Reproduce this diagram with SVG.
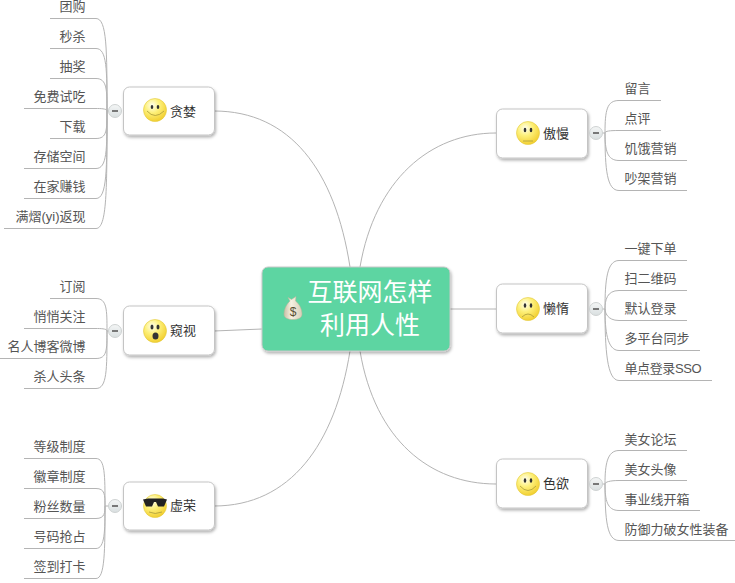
<svg xmlns="http://www.w3.org/2000/svg" width="735" height="583" viewBox="0 0 735 583">
<style>
text{font-family:"Liberation Sans","Noto Sans CJK SC",sans-serif}
.c{fill:none;stroke:#b4b4b4;stroke-width:1}
.leaf{font-size:13px;fill:#555}
.r{text-anchor:end}
.lbl{font-size:13px;fill:#333}
.box{fill:#fff;stroke:#c4c4c4;stroke-width:1;filter:url(#sh)}
.tog{fill:url(#tg);stroke:#cfd3d3}
.minus{fill:#777}
.face{fill:url(#smile);stroke:#e3c93c;stroke-width:.6}
.eye{fill:#333}
.m{fill:none;stroke:#a89a3a;stroke-width:.8}
.title{font-size:25px;fill:#fff;text-anchor:middle}
</style>
<defs>
<filter id="sh" x="-10%" y="-10%" width="125%" height="130%"><feDropShadow dx="1" dy="2" stdDeviation="1.600" flood-color="#000" flood-opacity=".3"/></filter>
<radialGradient id="smile" cx=".38" cy=".3" r=".8"><stop offset="0" stop-color="#fffff0"/><stop offset=".4" stop-color="#fdf07a"/><stop offset="1" stop-color="#f0c820"/></radialGradient>
<linearGradient id="tg" x1="0" y1="0" x2="0" y2="1"><stop offset="0" stop-color="#f4f6f6"/><stop offset="1" stop-color="#d9dfe0"/></linearGradient>
<linearGradient id="bag" x1="0" y1="0" x2="1" y2="0"><stop offset="0" stop-color="#c9bfa6"/><stop offset=".4" stop-color="#f7f1e2"/><stop offset="1" stop-color="#d8cfb8"/></linearGradient>
</defs>
<g id="connectors">
<path class="c" d="M214 111C290 111 335 170 350 267M214 331L262 329M214 506C290 506 335 445 350 351M496 133C430 133 375 180 360 267M496 309H450M496 484C430 484 375 440 360 351"/>
<path class="c" d="M122 111H107C107 50 107 18.500 96 18.500H50M107 111C107 70 107 48.500 96 48.500H50M107 111C107 90 107 78.500 96 78.500H50M107 111C107 108.500 100 108.500 96 108.500H24M107 111C107 130 107 138.500 96 138.500H50M107 111C107 150 107 168.500 96 168.500H24M107 111C107 170 107 198.500 96 198.500H24M107 111C107 190 107 228.500 96 228.500H4"/>
<path class="c" d="M122 331H107C107 310 107 298.500 96 298.500H50M107 331C107 328.500 100 328.500 96 328.500H24M107 331C107 350 107 358.500 96 358.500H0M107 331C107 370 107 388.500 96 388.500H24"/>
<path class="c" d="M122 506H105C105 475 105 458.500 96 458.500H24M105 506C105 495 105 488.500 96 488.500H24M105 506C105 512 105 518.500 96 518.500H24M105 506C105 530 105 548.500 96 548.500H24M105 506C105 550 105 578.500 96 578.500H24"/>
<path class="c" d="M589 133H605C605 110 607 100.500 619 100.500H661M605 133C605 131 610 130.500 619 130.500H661M605 133C605 150 607 160.500 619 160.500H687M605 133C605 170 607 190.500 619 190.500H687"/>
<path class="c" d="M589 309H605C605 280 607 260.500 619 260.500H687M605 309C605 300 607 290.500 619 290.500H687M605 309C605 312 607 320.500 619 320.500H687M605 309C605 330 607 350.500 619 350.500H700M605 309C605 350 607 380.500 619 380.500H712"/>
<path class="c" d="M589 484H605C605 465 607 450.500 619 450.500H687M605 484C605 482 610 480.500 619 480.500H687M605 484C605 500 607 510.500 619 510.500H700M605 484C605 520 607 540.500 619 540.500H735"/>
</g>
<g id="center">
<rect x="262" y="267" width="188" height="84" rx="6" fill="#5dd5a2" stroke="#c8c8c8" filter="url(#sh)"/>
<path d="M288 297.500L291.500 299.500L296 296.500L295.500 301C300 304.500 302 310 302 314C302 318 298 319.500 293 319.500C288 319.500 284 318 284 314C284 310 286 304.500 290 301Z" fill="url(#bag)" stroke="#bdb398" stroke-width=".5"/>
<text x="293" y="316" font-size="12" fill="#5a4f33" text-anchor="middle">$</text>
<text class="title" x="370" y="301">互联网怎样</text>
<text class="title" x="370" y="334">利用人性</text>
</g>
<g id="node-tanlan">
<rect class="box" x="123.500" y="87" width="91" height="48" rx="6"/>
<circle class="face" cx="155" cy="110" r="11.500"/>
<ellipse class="eye" cx="152" cy="107" rx="1.300" ry="2"/><ellipse class="eye" cx="158" cy="107" rx="1.300" ry="2"/>
<path class="m" d="M147 111Q155 120 164 111"/>
<text class="lbl" x="170" y="115.500">贪婪</text>
<circle class="tog" cx="115" cy="111" r="6.500"/><rect class="minus" x="112" y="110" width="6" height="2"/>
</g>
<g id="leaves-tanlan">
<text class="leaf r" x="85.500" y="11">团购</text><text class="leaf r" x="85.500" y="41">秒杀</text><text class="leaf r" x="85.500" y="71">抽奖</text><text class="leaf r" x="85.500" y="101">免费试吃</text><text class="leaf r" x="85.500" y="131">下载</text><text class="leaf r" x="85.500" y="161">存储空间</text><text class="leaf r" x="85.500" y="191">在家赚钱</text><text class="leaf r" x="85.500" y="221">满熠(yi)返现</text>
</g>
<g id="node-kuishi">
<rect class="box" x="123.500" y="306" width="91" height="49" rx="6"/>
<circle class="face" cx="155" cy="331" r="11.500"/>
<ellipse class="eye" cx="152" cy="327" rx="1.500" ry="2.500"/><ellipse class="eye" cx="158" cy="327" rx="1.500" ry="2.500"/>
<ellipse class="eye" cx="155.500" cy="336" rx="3" ry="3.500"/>
<text class="lbl" x="170" y="335">窥视</text>
<circle class="tog" cx="115" cy="331" r="6.500"/><rect class="minus" x="112" y="330" width="6" height="2"/>
</g>
<g id="leaves-kuishi">
<text class="leaf r" x="85.500" y="291">订阅</text><text class="leaf r" x="85.500" y="321">悄悄关注</text><text class="leaf r" x="85.500" y="351">名人博客微博</text><text class="leaf r" x="85.500" y="381">杀人头条</text>
</g>
<g id="node-xurong">
<rect class="box" x="123.500" y="482" width="91" height="48" rx="6"/>
<circle class="face" cx="155" cy="506" r="11.500"/>
<path d="M143 499.500L148 498.500H163L167 499.500L164 506.500L158 506.500L156 502H154L152 506.500L146 506.500Z" fill="#222"/>
<path class="m" d="M149 512Q155 515 162 512"/>
<text class="lbl" x="170" y="510">虚荣</text>
<circle class="tog" cx="115" cy="506" r="6.500"/><rect class="minus" x="112" y="505" width="6" height="2"/>
</g>
<g id="leaves-xurong">
<text class="leaf r" x="85.500" y="451">等级制度</text><text class="leaf r" x="85.500" y="481">徽章制度</text><text class="leaf r" x="85.500" y="511">粉丝数量</text><text class="leaf r" x="85.500" y="541">号码抢占</text><text class="leaf r" x="85.500" y="571">签到打卡</text>
</g>
<g id="node-aoman">
<rect class="box" x="496.500" y="109" width="91" height="49" rx="6"/>
<circle class="face" cx="528" cy="133" r="11.500"/>
<ellipse class="eye" cx="525" cy="130" rx="1.300" ry="2.300"/><ellipse class="eye" cx="531" cy="130" rx="1.300" ry="2.300"/>
<path class="m" d="M523 141H533"/>
<text class="lbl" x="543" y="137.500">傲慢</text>
<circle class="tog" cx="596" cy="133" r="6.500"/><rect class="minus" x="593" y="132" width="6" height="2"/>
</g>
<g id="leaves-aoman">
<text class="leaf" x="624.500" y="93">留言</text><text class="leaf" x="624.500" y="123">点评</text><text class="leaf" x="624.500" y="153">饥饿营销</text><text class="leaf" x="624.500" y="183">吵架营销</text>
</g>
<g id="node-landuo">
<rect class="box" x="496.500" y="284" width="91" height="49" rx="6"/>
<circle class="face" cx="528" cy="309" r="11.500"/>
<ellipse class="eye" cx="525" cy="305.500" rx="1.300" ry="2.300"/><ellipse class="eye" cx="531" cy="305.500" rx="1.300" ry="2.300"/>
<path class="m" d="M522 317Q528 311 534 317"/>
<text class="lbl" x="543" y="312.500">懒惰</text>
<circle class="tog" cx="596" cy="309" r="6.500"/><rect class="minus" x="593" y="308" width="6" height="2"/>
</g>
<g id="leaves-landuo">
<text class="leaf" x="624.500" y="253">一键下单</text><text class="leaf" x="624.500" y="283">扫二维码</text><text class="leaf" x="624.500" y="313">默认登录</text><text class="leaf" x="624.500" y="343">多平台同步</text><text class="leaf" x="624.500" y="373" textLength="77">单点登录SSO</text>
</g>
<g id="node-seyu">
<rect class="box" x="496.500" y="459" width="91" height="49" rx="6"/>
<circle class="face" cx="528" cy="484" r="11.500"/>
<ellipse class="eye" cx="525" cy="480.500" rx="1.300" ry="2.300"/><ellipse class="eye" cx="531" cy="480.500" rx="1.300" ry="2.300"/>
<path class="m" d="M520 486Q528 495 536 486"/>
<text class="lbl" x="543" y="487.500">色欲</text>
<circle class="tog" cx="596" cy="484" r="6.500"/><rect class="minus" x="593" y="483" width="6" height="2"/>
</g>
<g id="leaves-seyu">
<text class="leaf" x="624.500" y="444">美女论坛</text><text class="leaf" x="624.500" y="474">美女头像</text><text class="leaf" x="624.500" y="504">事业线开箱</text><text class="leaf" x="624.500" y="534">防御力破女性装备</text>
</g>
</svg>
